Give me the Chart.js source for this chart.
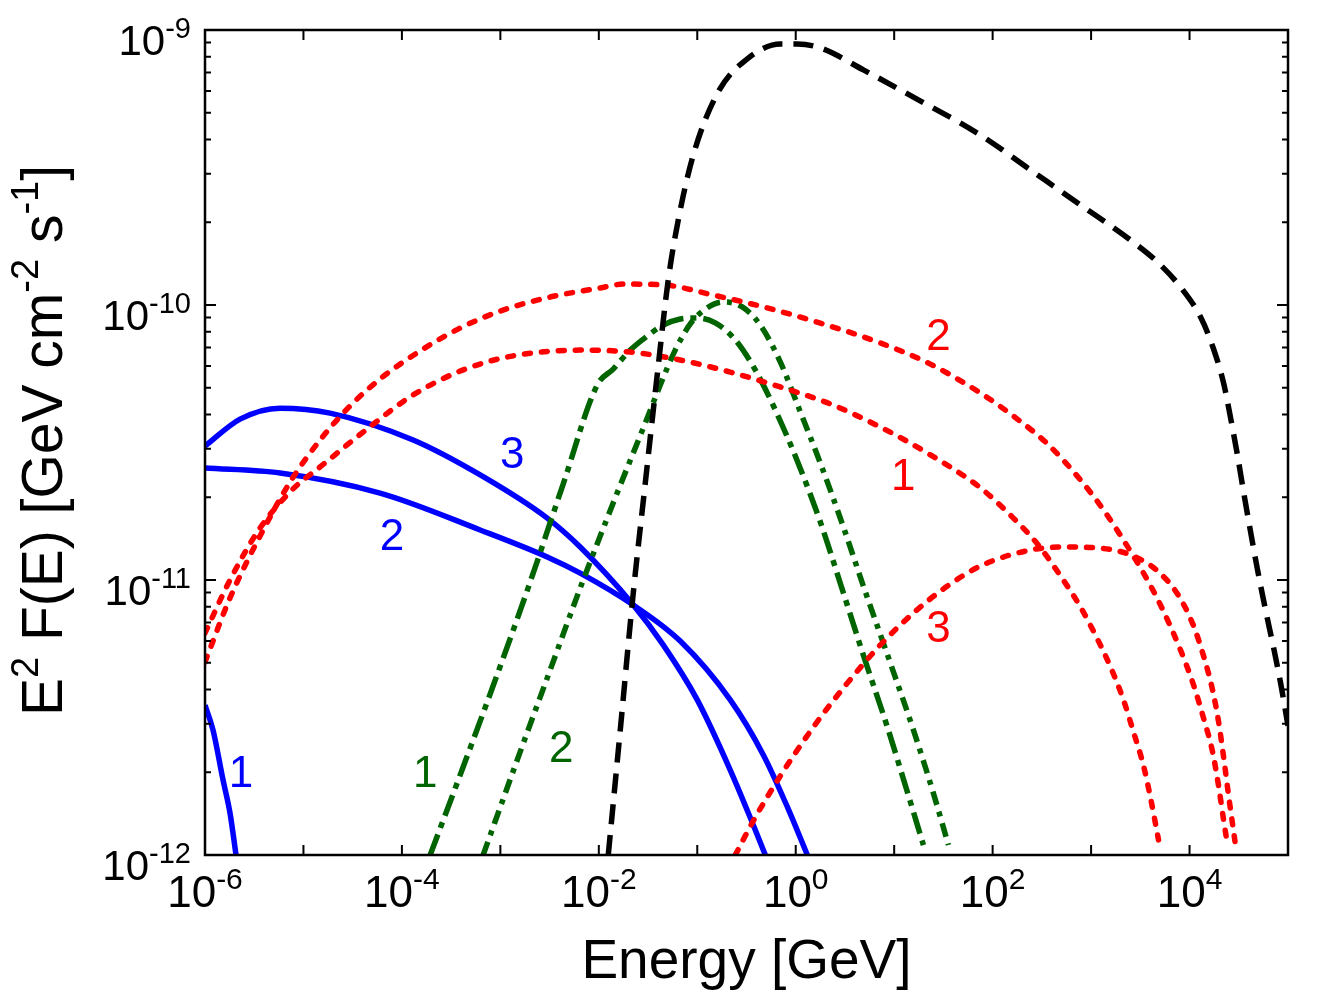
<!DOCTYPE html>
<html>
<head>
<meta charset="utf-8">
<script src="https://cdn.jsdelivr.net/npm/chart.js@4.4.1/dist/chart.umd.min.js"></script>
<style>
  html, body { margin: 0; padding: 0; background: #fff; }
</style>
</head>
<body>
<canvas id="sed" width="1334" height="1000"></canvas>
<script>
// values: log10(E / GeV) and log10(E^2 F / GeV cm^-2 s^-1)
const blackLogE = [-1.904, -1.782, -1.650, -1.528, -1.407, -1.295, -1.193, -1.041, -0.787, -0.492, -0.157, 0.016, 0.250, 0.687, 1.195, 1.876, 2.384, 2.892, 3.40, 3.675, 3.909, 4.112, 4.244, 4.346, 4.417, 4.488, 4.549, 4.62, 4.691, 4.772, 4.854, 4.925, 5.0]
const blackLogF = [-12.0, -11.545, -11.047, -10.647, -10.255, -9.909, -9.691, -9.455, -9.225, -9.105, -9.051, -9.051, -9.065, -9.145, -9.244, -9.382, -9.509, -9.636, -9.764, -9.844, -9.935, -10.044, -10.160, -10.284, -10.411, -10.549, -10.680, -10.825, -10.964, -11.109, -11.247, -11.375, -11.53]

const blue1LogE = [-6.0, -5.919, -5.817, -5.746, -5.685]
const blue1LogF = [-11.455, -11.545, -11.727, -11.847, -12.0]
const blue2LogE = [-6.0, -5.238, -4.222, -3.205, -2.524, -2.189, -1.650, -1.173, -0.665, -0.329, -0.085, 0.118]
const blue2LogF = [-10.593, -10.611, -10.684, -10.818, -10.916, -10.975, -11.091, -11.222, -11.436, -11.636, -11.825, -12.0]
const blue3LogE = [-6.0, -5.644, -5.238, -4.730, -3.886, -3.205, -2.524, -2.189, -1.650, -1.346, -1.0, -0.665, -0.431, -0.309]
const blue3LogF = [-10.513, -10.415, -10.375, -10.393, -10.491, -10.618, -10.775, -10.880, -11.091, -11.236, -11.436, -11.691, -11.891, -12.0]

const red1LogE = [-6.0, -5.746, -5.441, -5.106, -4.831, -4.354, -3.886, -3.378, -2.870, -2.189, -1.681, -1.173, -0.665, -0.157, 0.352, 0.860, 1.368, 1.876, 2.211, 2.455, 2.689, 2.892, 3.065, 3.197, 3.329, 3.431, 3.533, 3.604, 3.685]
const red1LogF = [-11.193, -11.0, -10.811, -10.669, -10.589, -10.451, -10.327, -10.236, -10.185, -10.164, -10.171, -10.2, -10.244, -10.298, -10.360, -10.444, -10.545, -10.665, -10.775, -10.869, -10.985, -11.098, -11.215, -11.316, -11.436, -11.553, -11.676, -11.793, -11.945]
const red2LogE = [-6.0, -5.746, -5.441, -5.136, -4.831, -4.526, -4.222, -3.815, -3.409, -3.002, -2.494, -1.986, -1.752, -1.346, -0.837, -0.329, 0.179, 0.860, 1.368, 1.876, 2.211, 2.557, 2.892, 3.126, 3.329, 3.533, 3.705, 3.909, 4.041, 4.142, 4.234, 4.295, 4.346, 4.386]
const red2LogF = [-11.298, -11.065, -10.840, -10.644, -10.491, -10.367, -10.269, -10.167, -10.084, -10.022, -9.971, -9.938, -9.924, -9.927, -9.964, -10.007, -10.058, -10.138, -10.215, -10.320, -10.404, -10.505, -10.636, -10.745, -10.855, -10.975, -11.091, -11.255, -11.382, -11.502, -11.625, -11.749, -11.873, -11.964]
const red3LogE = [-0.614, -0.431, -0.157, 0.179, 0.524, 0.860, 1.195, 1.541, 1.876, 2.384, 2.720, 3.228, 3.472, 3.675, 3.878, 4.041, 4.142, 4.234, 4.295, 4.346, 4.396, 4.467]
const red3LogF = [-12.0, -11.876, -11.713, -11.535, -11.375, -11.236, -11.120, -11.022, -10.949, -10.891, -10.880, -10.891, -10.920, -10.967, -11.051, -11.167, -11.276, -11.4, -11.516, -11.644, -11.782, -11.964]

const green1LogE = [-3.713, -3.378, -3.033, -2.697, -2.362, -2.016, -1.854, -1.681, -1.508, -1.346, -1.173, -1.0, -0.817, -0.614, -0.411, -0.207, 0.016, 0.250, 0.484, 0.687, 0.931, 1.134, 1.297]
const green1LogF = [-12.0, -11.68, -11.345, -11.007, -10.651, -10.291, -10.233, -10.164, -10.113, -10.073, -10.051, -10.047, -10.065, -10.127, -10.236, -10.382, -10.567, -10.789, -11.047, -11.273, -11.535, -11.771, -11.964]
const green2LogE = [-3.175, -2.799, -2.494, -2.189, -1.854, -1.508, -1.376, -1.224, -1.071, -0.919, -0.736, -0.543, -0.360, -0.157, 0.047, 0.250, 0.484, 0.687, 0.961, 1.195, 1.398, 1.551]
const green2LogF = [-12.0, -11.625, -11.327, -11.029, -10.720, -10.411, -10.291, -10.164, -10.069, -10.015, -9.989, -10.007, -10.073, -10.207, -10.389, -10.575, -10.807, -11.022, -11.302, -11.545, -11.775, -11.964]

// axis ticks (exponents)
const xTickExps = [-6, -5, -4, -3, -2, -1, 0, 1, 2, 3, 4, 5]
const xLabelExps = [-6, -4, -2, 0, 2, 4]
const yLabelExps = [-12, -11, -10, -9]

// curve numbers, placed at (log E, log F)
const curveTags = ['1', '2', '3', '1', '2', '1', '2', '3']
const curveTagColors = ['blue', 'blue', 'blue', 'green', 'green', 'red', 'red', 'red']
const curveTagLogE = [-5.634, -4.10, -2.880, -3.764, -2.382, 1.093, 1.449, 1.449]
const curveTagLogF = [-11.709, -10.847, -10.549, -11.709, -11.618, -10.629, -10.12, -11.182]

const FONT = "'Liberation Sans', Arial, Helvetica, sans-serif"
const COLORS = { blue: '#0000ff', green: '#006400', red: '#ff0000', black: '#000000' }

const toPts = (le, lf) => le.map((v, i) => ({ x: 10 ** v, y: 10 ** lf[i] }))

function curve(label, le, lf, color, dash, cap) {
  return {
    label,
    data: toPts(le, lf),
    showLine: true,
    borderColor: color,
    backgroundColor: color,
    borderWidth: 5.5,
    borderDash: dash,
    borderCapStyle: cap || 'butt',
    pointRadius: 0,
    fill: false,
    cubicInterpolationMode: 'monotone',
  }
}

// frame, inward ticks, power-of-ten labels, y title and curve numbers
const decor = {
  id: 'decor',
  afterDatasetsDraw(chart) {
    const { ctx, chartArea: a, scales: { x, y } } = chart
    ctx.save()
    ctx.strokeStyle = '#000'
    ctx.lineWidth = 2.5
    ctx.strokeRect(a.left, a.top, a.right - a.left, a.bottom - a.top)

    ctx.lineWidth = 2
    ctx.beginPath()
    x.ticks.forEach(t => {
      const px = x.getPixelForValue(t.value)
      ctx.moveTo(px, a.bottom); ctx.lineTo(px, a.bottom - 10)
      ctx.moveTo(px, a.top); ctx.lineTo(px, a.top + 10)
    })
    y.ticks.forEach(t => {
      const py = y.getPixelForValue(t.value)
      const len = t.major ? 11 : 6
      ctx.moveTo(a.left, py); ctx.lineTo(a.left + len, py)
      ctx.moveTo(a.right, py); ctx.lineTo(a.right - len, py)
    })
    ctx.stroke()

    ctx.fillStyle = '#000'
    ctx.textBaseline = 'alphabetic'
    // x tick labels
    xLabelExps.forEach(e => {
      const px = x.getPixelForValue(10 ** e)
      ctx.font = `44px ${FONT}`
      const wb = ctx.measureText('10').width
      ctx.font = `30px ${FONT}`
      const we = ctx.measureText(String(e)).width
      const x0 = px - (wb + we) / 2
      ctx.textAlign = 'left'
      ctx.font = `44px ${FONT}`
      ctx.fillText('10', x0, a.bottom + 52)
      ctx.font = `30px ${FONT}`
      ctx.fillText(String(e), x0 + wb, a.bottom + 34)
    })
    // y tick labels
    yLabelExps.forEach(e => {
      const py = y.getPixelForValue(10 ** e)
      const right = a.left - 14
      ctx.font = `29px ${FONT}`
      const we = ctx.measureText(String(e)).width
      ctx.textAlign = 'right'
      ctx.fillText(String(e), right, py + 8)
      ctx.font = `42px ${FONT}`
      ctx.fillText('10', right - we, py + 25)
    })

    // y title with superscripts
    const parts = [['E', 0], ['2', 1], [' F(E) [GeV cm', 0], ['-2', 1], [' s', 0], ['-1', 1], [']', 0]]
    const big = 57, small = 38
    let total = 0
    parts.forEach(([s, sup]) => {
      ctx.font = `${sup ? small : big}px ${FONT}`
      total += ctx.measureText(s).width
    })
    ctx.translate(62, (a.top + a.bottom) / 2 - 2)
    ctx.rotate(-Math.PI / 2)
    ctx.textAlign = 'left'
    let cx = -total / 2
    parts.forEach(([s, sup]) => {
      ctx.font = `${sup ? small : big}px ${FONT}`
      ctx.fillText(s, cx, sup ? -24 : 0)
      cx += ctx.measureText(s).width
    })
    ctx.setTransform(1, 0, 0, 1, 0, 0)

    // curve numbers
    ctx.font = `44px ${FONT}`
    ctx.textAlign = 'center'
    ctx.textBaseline = 'middle'
    curveTags.forEach((s, i) => {
      ctx.fillStyle = COLORS[curveTagColors[i]]
      ctx.fillText(s, x.getPixelForValue(10 ** curveTagLogE[i]), y.getPixelForValue(10 ** curveTagLogF[i]))
    })
    ctx.restore()
  }
}

new Chart(document.getElementById('sed'), {
  type: 'scatter',
  data: {
    datasets: [
      curve('total', blackLogE, blackLogF, COLORS.black, [20, 11]),
      curve('red 1', red1LogE, red1LogF, COLORS.red, [6, 11], 'round'),
      curve('red 2', red2LogE, red2LogF, COLORS.red, [6, 11], 'round'),
      curve('red 3', red3LogE, red3LogF, COLORS.red, [6, 11], 'round'),
      curve('green 1', green1LogE, green1LogF, COLORS.green, [22, 7, 6, 7]),
      curve('green 2', green2LogE, green2LogF, COLORS.green, [14, 7, 5, 7]),
      curve('blue 1', blue1LogE, blue1LogF, COLORS.blue, []),
      curve('blue 2', blue2LogE, blue2LogF, COLORS.blue, []),
      curve('blue 3', blue3LogE, blue3LogF, COLORS.blue, []),
    ],
  },
  options: {
    responsive: false,
    animation: false,
    devicePixelRatio: 1,
    layout: { padding: { top: 30, right: 46, left: 0, bottom: 0 } },
    scales: {
      x: {
        type: 'logarithmic',
        min: 1e-6,
        max: 1e5,
        afterBuildTicks: s => { s.ticks = xTickExps.map(e => ({ value: 10 ** e, major: true })) },
        afterFit: s => { s.height = 145 },
        ticks: { display: false },
        grid: { display: false },
        border: { display: false },
        title: {
          display: true,
          text: 'Energy [GeV]',
          color: '#000',
          font: { family: FONT, size: 55 },
          padding: { top: 0, bottom: 4 },
        },
      },
      y: {
        type: 'logarithmic',
        min: 1e-12,
        max: 1e-9,
        afterBuildTicks: s => {
          const t = []
          for (let e = -12; e < -9; e++) {
            for (let m = 1; m < 10; m++) t.push({ value: m * 10 ** e, major: m === 1 })
          }
          t.push({ value: 1e-9, major: true })
          s.ticks = t
        },
        afterFit: s => { s.width = 205 },
        ticks: { display: false },
        grid: { display: false },
        border: { display: false },
      },
    },
    plugins: {
      legend: { display: false },
      tooltip: { enabled: false },
    },
  },
  plugins: [decor],
})
</script>
</body>
</html>
